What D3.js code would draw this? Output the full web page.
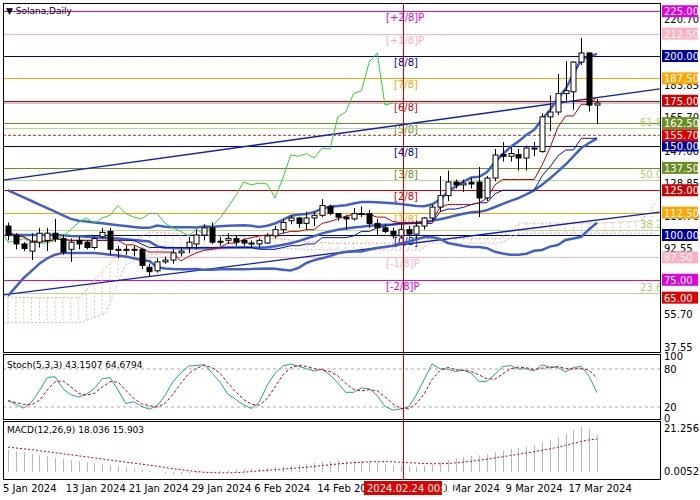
<!DOCTYPE html>
<html><head><meta charset="utf-8">
<script src="https://cdn.jsdelivr.net/npm/d3@7"></script>
<style>body{margin:0;background:#fff}text{font-family:"DejaVu Sans",sans-serif}</style>
</head><body><svg id="c" width="700" height="500"></svg>
<script>
// daily candles, 5 Jan 2024 .. 20 Mar 2024
var opens  = [105,100,95,91,96,97,101,98,92,97,96,93,99,102,92,92,91.5,92,82,80,85,86,90,93,95,100,104,96,97,98,97,95,95,95.5,99.5,103,108,109.5,106.5,109.5,111,116,112,110,109,112,112,106.5,104,102,99.5,103,100.5,105,109.5,115.6,122,129.6,128,129.5,129.6,120.7,131.8,145,144,145,143,148.6,146.6,166,168.7,179,180,196.6,201.7,172.6];
var highs  = [107,101,96,101,104,104,109,100,98,99,97,99,104,104,94,94,94,93,84,87,88,92,93,99,103,106,107,99,101,100,98,97,98,101,105,109,111,110,113,113,120,117,112,111,115,116,114,109,106,104,106,105,108,110,117,133,136,131,131,132,138,133,148,152,149,148,150,152,168,178,190,197,197,210,202,176];
var lows   = [97,92,91,86,93,91,96,89,85,92,92,92,98,89,87,89,88,81,77,79,84,84,88,90,92,97,95,94,95,94,94,93,93,95,98,101,106,104,103,105,110,111,108,103,108,110,104,100,101,98,98,99,98,103,108,113,119,126,124,126,110,119,130,141,141,136,136,144,146,158,167,175,170,195,169,162];
var closes = [100,95,92.5,96,101,101,98,90.5,96,95,93,98,101.5,92,91.5,92,92,83,79.5,85,86,90,91,96,100,104,96,96.5,98,96,95.5,95.5,97,99.5,103,107,109.5,106.5,109.5,111,116.5,112,110,109,112,112,106.5,104,102,99.5,103,100.5,105,109.5,115.6,122,129.6,128,129,128.5,120.7,131.8,144.7,144,145.5,143,148.6,148,166,168.7,179,180.6,196.6,201.7,172.6,173.7];
// Bollinger(20) before the first full window
var bbEarlyU = [125,123,121,119,117,115,113,111,109,108,107.5,107,106.5,106,105.5,105,104.5,104,104];
var bbEarlyM = [100,100,100,100,100,100,100,99.8,99.5,99.3,99,98.8,98.5,98.2,98,97.6,97.2,96.8,96.4];
var bbEarlyL = [66,71,76,80,84,87,89,90,90,90,90,90,89.5,89,88.5,88,87,86,85.5];
// Ichimoku cloud outline (bar index, upper, lower)
var cloudIdx = [-0.6,2.8,9.2,11,12.4,13.6,14.9,16.2,18,24.5,30.8,41,52.5,53.8,62.7,65.2,75.4,80.5,81.8,82.4];
var cloudTop = [65.4,65,65,75,81.6,87,91.6,97,101.7,100,99,95.5,95.5,98,98,106.7,106.7,107.8,114,118];
var cloudBot = [50.8,51,51,54,56,69,83,86,89,91,93,91.6,91.6,95.5,95.5,101,101,101,101,101];
var macdMain = [10.6,10,9.4,8.8,8.2,7.6,7,6.4,5.8,5.2,4.6,4.2,3.8,3.3,2.8,2.3,1.8,1.2,0.5,-0.2,-0.8,-1.2,-1.2,-1,-0.7,-0.3,0.2,0.6,0.9,1.2,1.4,1.6,1.8,2,2.3,2.7,3.1,3.6,4,4.4,5,5.3,5.6,5.6,5.5,5.4,5.1,4.6,4,3.4,2.9,2.6,2.6,3,3.7,4.7,5.8,6.6,7.3,7.9,8,8.6,9.6,10.4,11.1,11.6,12.2,12.8,14.2,15.5,17,18.5,20.3,21.7,21,18.0];
var macdSignal = [12,11.6,11.2,10.8,10.3,9.8,9.3,8.8,8.3,7.8,7.3,6.8,6.3,5.8,5.3,4.8,4.3,3.8,3.3,2.8,2.2,1.6,1.1,0.6,0.2,-0.1,-0.3,-0.4,-0.4,-0.3,-0.1,0.2,0.5,0.8,1.1,1.4,1.7,2,2.3,2.7,3.1,3.5,3.9,4.2,4.5,4.7,4.9,5,5,4.9,4.7,4.5,4.3,4.1,4,4,4.1,4.4,4.8,5.2,5.7,6.2,6.8,7.4,8,8.6,9.2,9.8,10.5,11.2,12,12.9,13.8,14.8,15.5,15.9];
// Murrey levels
var murrayVals   = [225,212.5,200,187.5,175,162.5,150,137.5,125,112.5,100,87.5,75];
var murrayNames  = ["[+2/8]P","[+1/8]P","[8/8]","[7/8]","[6/8]","[5/8]","[4/8]","[3/8]","[2/8]","[1/8]","[0/8]","[-1/8]P","[-2/8]P"];
var murrayColors = ["#e000e0","#ffb0c0","#0000a0","#ffa500","#d00000","#6b8e23","#0000a0","#6b8e23","#d00000","#ffa500","#0000a0","#ffb0c0","#e000e0"];
var fibNames = ["61.8","50.0","38.2","23.6"];
var fibVals  = [159.8,130.7,102.8,67.6];
var axisTicks = [220.70,183.85,165.70,147.00,128.85,110.70,92.55,55.70,37.55];
var dateTicks = [[0,"5 Jan 2024"],[8,"13 Jan 2024"],[16,"21 Jan 2024"],[24,"29 Jan 2024"],[32,"6 Feb 2024"],[40,"14 Feb 2024"],[56,"1 Mar 2024"],[64,"9 Mar 2024"],[72,"17 Mar 2024"]];
var trendLines = [[-0.6,130.7,83,181.6],[-0.6,66.5,83,112.8]];

var svg = d3.select("#c");
var L=3,R=660;
var x = d3.scaleLinear().domain([0,75]).range([8,597]);
var y = d3.scaleLinear().domain([100,200]).range([235,56]);
var yS = d3.scaleLinear().domain([0,100]).range([419.7,356.3]);
var yM = d3.scaleLinear().domain([0,21.256]).range([472,428]);
var n = closes.length;

function rollMax(a,i,p){var m=-1e9;for(var k=Math.max(0,i-p+1);k<=i;k++)m=Math.max(m,a[k]);return m;}
function rollMin(a,i,p){var m=1e9;for(var k=Math.max(0,i-p+1);k<=i;k++)m=Math.min(m,a[k]);return m;}
var tenkan=[],kijun=[],bbU=[],bbM=[],bbL=[];
for(var i=0;i<n;i++){
  tenkan.push((rollMax(highs,i,9)+rollMin(lows,i,9))/2);
  kijun.push((rollMax(highs,i,26)+rollMin(lows,i,26))/2);
  if(i<bbEarlyU.length){bbU.push(bbEarlyU[i]);bbM.push(bbEarlyM[i]);bbL.push(bbEarlyL[i]);continue;}
  var w=closes.slice(i-19,i+1),m=d3.mean(w),sd=Math.sqrt(d3.mean(w,function(v){return (v-m)*(v-m);}));
  bbM.push(m);bbU.push(m+2*sd);bbL.push(m-2*sd);
}
var kRaw=[],kS=[],dS=[];
for(var i=0;i<n;i++){var hh=rollMax(highs,i,5),ll=rollMin(lows,i,5);kRaw.push([closes[i]-ll,hh-ll]);}
for(var i=0;i<n;i++){var a=0,b=0;for(var k=Math.max(0,i-2);k<=i;k++){a+=kRaw[k][0];b+=kRaw[k][1];}kS.push(b?100*a/b:50);}
for(var i=0;i<n;i++){dS.push(d3.mean(kS.slice(Math.max(0,i-2),i+1)));}

svg.append("defs").append("clipPath").attr("id","mc").append("rect").attr("x",L).attr("y",3).attr("width",R-L).attr("height",349);
var main = svg.append("g").attr("clip-path","url(#mc)");

// right axis tick labels
svg.selectAll(".at").data(axisTicks).enter().append("text").attr("x",664).attr("y",function(d){return y(d)+4;})
  .attr("font-size",10).attr("fill","#000").text(function(d){return d.toFixed(2);});

// murrey lines
main.selectAll(".ml").data(murrayVals).enter().append("line").attr("x1",L).attr("x2",R)
  .attr("y1",function(d){return Math.round(y(d))+0.5;}).attr("y2",function(d){return Math.round(y(d))+0.5;})
  .attr("stroke",function(d,i){return murrayColors[i];}).attr("stroke-width",1);
main.selectAll(".mt").data(murrayVals).enter().append("text").attr("x",function(d,i){return murrayNames[i].length>5?386:394;})
  .attr("y",function(d){return y(d)+10;}).attr("font-size",10).attr("fill",function(d,i){return murrayColors[i];})
  .text(function(d,i){return murrayNames[i];});
// fib levels
main.selectAll(".fl").data(fibVals).enter().append("line").attr("x1",L).attr("x2",R)
  .attr("y1",function(d){return y(d)+0.5;}).attr("y2",function(d){return y(d)+0.5;}).attr("stroke","#b5d98c");
main.selectAll(".ft").data(fibVals).enter().append("text").attr("x",640).attr("y",function(d){return y(d)-2;})
  .attr("font-size",10).attr("fill","#a8cf78").text(function(d,i){return fibNames[i];});
main.append("line").attr("x1",L).attr("x2",R).attr("y1",y(155.7)).attr("y2",y(155.7)).attr("stroke","#b03020").attr("stroke-dasharray","3,2");
main.append("line").attr("x1",L).attr("x2",R).attr("y1",y(173.7)).attr("y2",y(173.7)).attr("stroke","#999");

// ichimoku cloud, dotted hatch
var cTop = d3.scaleLinear().domain(cloudIdx).range(cloudTop);
var cBot = d3.scaleLinear().domain(cloudIdx).range(cloudBot);
var hatch = d3.range(0,83);
main.selectAll(".ch").data(hatch).enter().append("line")
  .attr("x1",function(d){return x(d);}).attr("x2",function(d){return x(d);})
  .attr("y1",function(d){return y(cTop(d));}).attr("y2",function(d){return y(cBot(d));})
  .attr("stroke","#f0c0a0").attr("stroke-dasharray","2,2");
[cloudTop,cloudBot].forEach(function(arr,j){
  main.append("path").attr("d",d3.line().x(function(d,i){return x(cloudIdx[i]);}).y(function(d){return y(d);})(arr))
    .attr("fill","none").attr("stroke",j?"#e0b0c0":"#f0b080").attr("stroke-dasharray","2,2");
});

// trend lines
main.selectAll(".tl").data(trendLines).enter().append("line")
  .attr("x1",function(d){return x(d[0]);}).attr("y1",function(d){return y(d[1]);})
  .attr("x2",function(d){return x(d[2]);}).attr("y2",function(d){return y(d[3]);})
  .attr("stroke","#1020b0").attr("stroke-width",1.3);

var ln = function(arr,off){return d3.line().x(function(d,i){return x(i+off);}).y(function(d){return y(d);})(arr);};
// bands & lines
[bbU,bbM,bbL].forEach(function(a){main.append("path").attr("d",ln(a,0)).attr("fill","none").attr("stroke","#4060c8").attr("stroke-width",2.5);});
main.append("path").attr("d",ln(kijun,0)).attr("fill","none").attr("stroke","#0010c0").attr("stroke-width",1);
main.append("path").attr("d",ln(tenkan,0)).attr("fill","none").attr("stroke","#c00000").attr("stroke-width",1);
main.append("path").attr("d",ln(closes,-26)).attr("fill","none").attr("stroke","#30d030").attr("stroke-width",1);

// candles
var cg = main.selectAll(".cd").data(closes).enter().append("g");
cg.append("line").attr("x1",function(d,i){return Math.round(x(i))+0.5;}).attr("x2",function(d,i){return Math.round(x(i))+0.5;})
  .attr("y1",function(d,i){return y(highs[i]);}).attr("y2",function(d,i){return y(lows[i]);}).attr("stroke","#000");
cg.append("rect").attr("x",function(d,i){return Math.round(x(i))-2;}).attr("width",5)
  .attr("y",function(d,i){return y(Math.max(d,opens[i]));})
  .attr("height",function(d,i){return Math.max(1,Math.abs(y(d)-y(opens[i])));})
  .attr("fill",function(d,i){return d<opens[i]?"#000":"#fff";}).attr("stroke","#000").attr("stroke-width",1);

// price boxes
var boxes = murrayVals.map(function(v,i){return {v:v,c:murrayColors[i]};});
boxes.push({v:155.7,c:"#e00000"});boxes.push({v:65,c:"#e00000"});
var bx = svg.selectAll(".bx").data(boxes).enter().append("g");
bx.append("rect").attr("x",662).attr("y",function(d){return y(d.v)-6;}).attr("width",36).attr("height",12).attr("fill",function(d){return d.c;});
bx.append("text").attr("x",664).attr("y",function(d){return y(d.v)+4;}).attr("font-size",10).attr("fill","#fff").text(function(d){return d.v.toFixed(2);});

// stochastic
var sl = function(a){return d3.line().x(function(d,i){return x(i);}).y(function(d){return yS(d);})(a);};
[20,80].forEach(function(v){svg.append("line").attr("x1",L).attr("x2",R).attr("y1",yS(v)).attr("y2",yS(v)).attr("stroke","#aaa").attr("stroke-dasharray","3,3");});
svg.append("path").attr("d",sl(kS)).attr("fill","none").attr("stroke","#20a0a0");
svg.append("path").attr("d",sl(dS)).attr("fill","none").attr("stroke","#d00000").attr("stroke-dasharray","3,2");
svg.append("text").attr("x",7).attr("y",368).attr("font-size",9).text("Stoch(5,3,3) 43.1507 64.6794");
[["100",100],["80",80],["20",20],["0",3]].forEach(function(t){svg.append("text").attr("x",664).attr("y",yS(t[1])+4).attr("font-size",10).text(t[0]);});

// macd
svg.selectAll(".mb").data(macdMain).enter().append("line").attr("x1",function(d,i){return Math.round(x(i))+0.5;}).attr("x2",function(d,i){return Math.round(x(i))+0.5;})
  .attr("y1",yM(0)).attr("y2",function(d){return yM(d);}).attr("stroke","#b8b8b8");
svg.append("path").attr("d",d3.line().x(function(d,i){return x(i);}).y(function(d){return yM(d);})(macdSignal)).attr("fill","none").attr("stroke","#d00000").attr("stroke-dasharray","2,2");
svg.append("text").attr("x",7).attr("y",433).attr("font-size",9).text("MACD(12,26,9) 18.036 15.903");
svg.append("text").attr("x",664).attr("y",432).attr("font-size",10).text("21.256");
svg.append("text").attr("x",664).attr("y",475).attr("font-size",10).text("0.0052");

// panel frames
[[3,352],[354,419],[421,479]].forEach(function(p){svg.append("rect").attr("x",L+0.5).attr("y",p[0]+0.5).attr("width",R-L).attr("height",p[1]-p[0]).attr("fill","none").attr("stroke","#000");});

// crosshair
svg.append("line").attr("x1",403.5).attr("x2",403.5).attr("y1",3).attr("y2",479).attr("stroke","#d00000");

// date axis
svg.selectAll(".dt").data(dateTicks).enter().append("text").attr("x",function(d){return x(d[0])-5;}).attr("y",492).attr("font-size",10).text(function(d){return d[1];});
svg.append("rect").attr("x",364).attr("y",481).attr("width",78).attr("height",14).attr("fill","#e00000");
svg.append("text").attr("x",367).attr("y",492).attr("font-size",10).attr("fill","#fff").text("2024.02.24 00:00");

svg.append("text").attr("x",6).attr("y",14).attr("font-size",9).text("▼ Solana,Daily");
</script></body></html>
